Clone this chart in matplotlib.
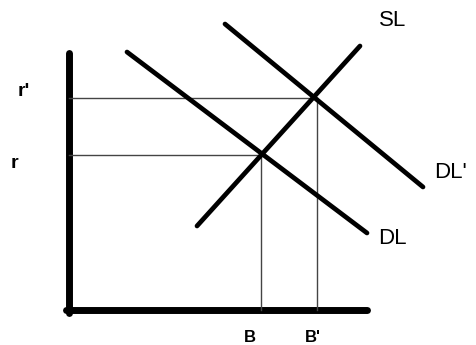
import matplotlib.pyplot as plt

# curve endpoints (x, y) in diagram units, origin at the axes corner
dl_x = [58, 298]
dl_y = [258, 77]
dl2_x = [156, 354]
dl2_y = [286, 123]
sl_x = [128, 291]
sl_y = [84, 264]

# equilibrium points (B, r) and (B', r')
eq_x = [192, 248]
eq_y = [155, 212]
x_labels = ["B", "B'"]
y_labels = ["r", "r'"]

fig = plt.figure(figsize=(4.77, 3.45), dpi=100)
ax = fig.add_axes([0, 0, 1, 1])
ax.set_xlim(-69, 408)
ax.set_ylim(-35, 310)
ax.axis('off')

# axes of the diagram
ax.plot([0, 0], [257, -3], color='black', lw=5, solid_capstyle='round')
ax.plot([-3, 298], [0, 0], color='black', lw=5, solid_capstyle='round')

# guide lines to the equilibria
for x, y in zip(eq_x, eq_y):
    ax.plot([0, x], [y, y], color='#444444', lw=1)
    ax.plot([x, x], [y, 0], color='#444444', lw=1)

# curves
for xs, ys in [(dl_x, dl_y), (dl2_x, dl2_y), (sl_x, sl_y)]:
    ax.plot(xs, ys, color='black', lw=3.4, solid_capstyle='round')

font = 'Liberation Sans'
ax.text(324, 290, 'SL', fontsize=16, family=font, ha='center', va='center')
ax.text(365, 138, "DL'", fontsize=16, family=font, ha='left', va='center')
ax.text(309, 72, 'DL', fontsize=16, family=font, ha='left', va='center')

ax.text(eq_x[0] - 11, -27, x_labels[0], fontsize=12, weight='bold', family=font, ha='center', va='center')
ax.text(eq_x[1] - 4, -27, x_labels[1], fontsize=12, weight='bold', family=font, ha='center', va='center')
ax.text(-55, 146, y_labels[0], fontsize=14, weight='bold', family=font, ha='center', va='center')
ax.text(-45, 218, y_labels[1], fontsize=14, weight='bold', family=font, ha='center', va='center')

fig.savefig('out.png', dpi=100)
